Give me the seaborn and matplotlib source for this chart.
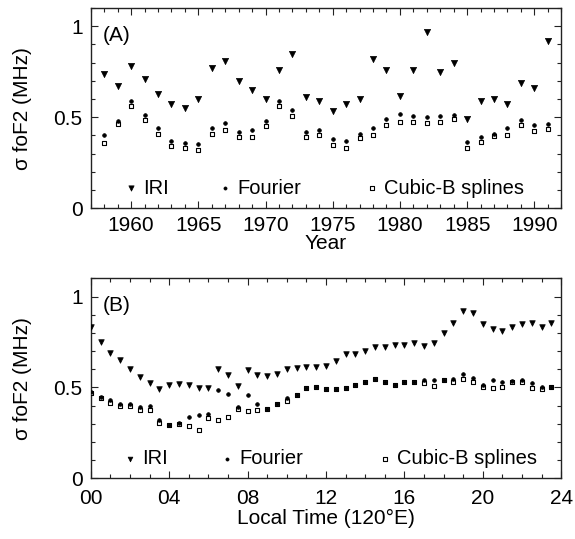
import numpy as np
import pandas as pd
import matplotlib
matplotlib.use('Agg')
import matplotlib.pyplot as plt
from matplotlib.ticker import MultipleLocator, FixedLocator
import seaborn as sns

sns.set_style('ticks')
plt.rcParams['font.family'] = ['Liberation Sans', 'DejaVu Sans']
plt.rcParams['text.color'] = 'black'
plt.rcParams['axes.labelcolor'] = 'black'

# Panel A: yearly standard deviation of foF2
years = list(range(1958, 1992))
iri_year = [0.74, 0.67, 0.78, 0.71, 0.63, 0.57, 0.55, 0.60, 0.77, 0.81,
            0.70, 0.65, 0.60, 0.76, 0.85, 0.61, 0.59, 0.535, 0.57, 0.60,
            0.82, 0.76, 0.615, 0.76, 0.97, 0.75, 0.80, 0.49, 0.59, 0.60,
            0.57, 0.69, 0.66, 0.92]
fourier_year = [0.40, 0.48, 0.59, 0.51, 0.44, 0.37, 0.36, 0.35, 0.44, 0.47,
                0.42, 0.43, 0.48, 0.59, 0.54, 0.42, 0.43, 0.38, 0.37, 0.41,
                0.44, 0.49, 0.52, 0.505, 0.50, 0.505, 0.51, 0.365, 0.39, 0.41,
                0.44, 0.485, 0.455, 0.46]
spline_year = [0.36, 0.46, 0.56, 0.485, 0.41, 0.34, 0.33, 0.32, 0.41, 0.43,
               0.39, 0.39, 0.45, 0.56, 0.505, 0.39, 0.40, 0.345, 0.33, 0.385,
               0.40, 0.455, 0.475, 0.475, 0.47, 0.475, 0.49, 0.33, 0.365, 0.395,
               0.40, 0.455, 0.425, 0.435]

# Panel B: half-hourly standard deviation of foF2
hours = [h * 0.5 for h in range(48)]
iri_hour = [0.83, 0.75, 0.69, 0.65, 0.60, 0.56, 0.525, 0.49, 0.515, 0.52,
            0.515, 0.495, 0.495, 0.60, 0.57, 0.51, 0.595, 0.57, 0.565, 0.575,
            0.60, 0.605, 0.615, 0.61, 0.62, 0.645, 0.685, 0.685, 0.70, 0.725,
            0.725, 0.735, 0.735, 0.745, 0.73, 0.745, 0.80, 0.855, 0.92, 0.91,
            0.85, 0.82, 0.81, 0.835, 0.85, 0.855, 0.835, 0.855]
fourier_hour = [0.475, 0.445, 0.43, 0.41, 0.41, 0.39, 0.40, 0.32, 0.295, 0.305,
                0.34, 0.35, 0.355, 0.485, 0.465, 0.39, 0.46, 0.41, 0.38, 0.41,
                0.44, 0.46, 0.495, 0.505, 0.49, 0.49, 0.495, 0.515, 0.53, 0.545,
                0.53, 0.515, 0.53, 0.53, 0.54, 0.54, 0.54, 0.545, 0.575, 0.55,
                0.515, 0.54, 0.53, 0.535, 0.54, 0.525, 0.505, 0.50]
spline_hour = [0.47, 0.44, 0.415, 0.40, 0.40, 0.375, 0.375, 0.305, 0.295, 0.30,
               0.29, 0.265, 0.33, 0.32, 0.34, 0.38, 0.37, 0.375, 0.38, 0.41,
               0.425, 0.46, 0.495, 0.50, 0.49, 0.49, 0.495, 0.515, 0.53, 0.545,
               0.53, 0.515, 0.53, 0.53, 0.525, 0.51, 0.54, 0.53, 0.545, 0.53,
               0.50, 0.495, 0.50, 0.53, 0.53, 0.495, 0.49, 0.50]

hour_ticks = [0, 4, 8, 12, 16, 20, 24]
hour_labels = ['00', '04', '08', '12', '16', '20', '24']
series = ['IRI', 'Fourier', 'Cubic-B splines']

df_a = pd.DataFrame({'x': years, 'IRI': iri_year, 'Fourier': fourier_year,
                     'Cubic-B splines': spline_year})
df_b = pd.DataFrame({'x': hours, 'IRI': iri_hour, 'Fourier': fourier_hour,
                     'Cubic-B splines': spline_hour})

FS = 15      # tick / axis label size
LFS = 14.5   # legend text size


def styles(tri):
    return {
        'IRI': dict(marker='v', s=tri, color='black', edgecolor='black', linewidth=0.5),
        'Fourier': dict(marker='o', s=7, color='black', edgecolor='black', linewidth=0.5),
        'Cubic-B splines': dict(marker='s', s=8, facecolor='white', edgecolor='black', linewidth=0.8),
    }


fig = plt.figure(figsize=(5.75, 5.39), dpi=100)
ax_a = fig.add_axes([0.158, 0.614, 0.818, 0.371])
ax_b = fig.add_axes([0.158, 0.1126, 0.818, 0.371])

# x anchor (axes fraction) of each legend entry, per panel
legend_x = {'A': [0.072, 0.272, 0.585], 'B': [0.070, 0.277, 0.613]}

for ax, df, tri, key in [(ax_a, df_a, 20, 'A'), (ax_b, df_b, 16, 'B')]:
    st = styles(tri)
    # draw splines first so filled markers sit on top
    for name in ['Cubic-B splines', 'Fourier', 'IRI']:
        sns.scatterplot(data=df, x='x', y=name, ax=ax, label=name, zorder=3, **st[name])
    ax.set_ylim(0, 1.1)
    ax.yaxis.set_major_locator(FixedLocator([0, 0.5, 1]))
    ax.yaxis.set_minor_locator(MultipleLocator(0.1))
    ax.set_yticklabels(['0', '0.5', '1'])
    ax.set_ylabel('σ foF2 (MHz)', fontsize=FS)
    ax.yaxis.set_label_coords(-0.125, 0.5)
    ax.tick_params(which='both', direction='in', top=True, right=True,
                   labelsize=FS, width=0.8, colors='#222222', labelcolor='black')
    ax.tick_params(which='major', length=5)
    ax.tick_params(which='minor', length=3)
    ax.tick_params(axis='y', pad=6)
    for sp in ax.spines.values():
        sp.set_linewidth(1.0)
        sp.set_color('#222222')

    # one small legend per entry so each sits where the original places it
    handles, labels = ax.get_legend_handles_labels()
    ax.get_legend().remove()
    for name, lx in zip(series, legend_x[key]):
        h = handles[labels.index(name)]
        leg = ax.legend([h], [name], loc='center left', bbox_to_anchor=(lx, 0.1),
                        frameon=False, fontsize=LFS, handletextpad=0.3,
                        handlelength=0.6, markerscale=0.85, borderpad=0,
                        borderaxespad=0, labelcolor='black')
        ax.add_artist(leg)
    ax.legend_ = None

ax_a.set_xlim(1957, 1992)
ax_a.xaxis.set_major_locator(MultipleLocator(5))
ax_a.xaxis.set_minor_locator(MultipleLocator(1))
ax_a.tick_params(axis='x', pad=6)
ax_a.set_xlabel('Year', fontsize=FS, labelpad=-1)
ax_a.text(0.0255, 0.91, '(A)', transform=ax_a.transAxes, fontsize=FS, va='top')

ax_b.set_xlim(0, 24)
ax_b.xaxis.set_major_locator(FixedLocator(hour_ticks))
ax_b.set_xticklabels(hour_labels)
ax_b.xaxis.set_minor_locator(MultipleLocator(1))
ax_b.tick_params(axis='x', pad=7.5)
ax_b.set_xlabel('Local Time (120°E)', fontsize=FS, labelpad=1)
ax_b.text(0.0255, 0.91, '(B)', transform=ax_b.transAxes, fontsize=FS, va='top')

fig.savefig('out.png', dpi=100)
